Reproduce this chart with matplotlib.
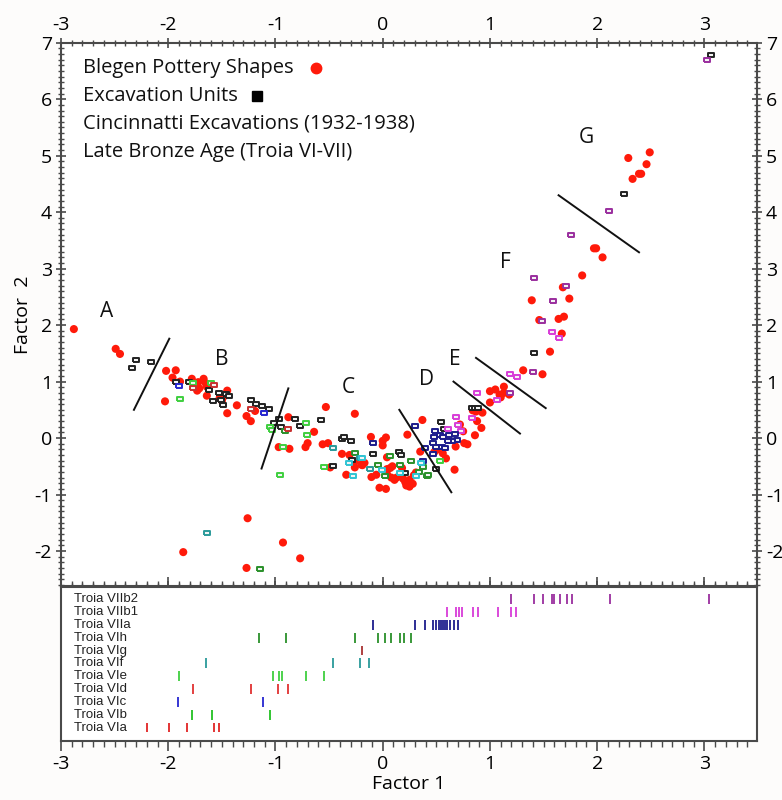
import numpy as np
import matplotlib
matplotlib.use('Agg')
import matplotlib.pyplot as plt
from matplotlib.ticker import MultipleLocator

plt.rcParams['font.family'] = ['Open Sans', 'DejaVu Sans']
plt.rcParams['axes.unicode_minus'] = False

# ---- pottery shapes (red dots), Factor 1 / Factor 2 ----
shape_x = [-2.88, -2.49, -2.45,
           -2.02, -1.93, -1.96, -2.03, -1.89, -1.78, -1.72, -1.73, -1.71, -1.67, -1.65, -1.64, -1.64,
           -1.52, -1.49, -1.50, -1.45, -1.36, -1.45, -1.27, -1.23, -1.19,
           -0.88, -0.97, -0.87, -0.70, -0.72, -0.64, -0.56, -0.51, -0.53, -0.26,
           -0.49, -0.38, -0.34, -0.31, -0.26, -0.20, -0.17, -0.26, -0.19, -0.11, -0.105, -0.06,
           0.00, 0.03, 0.00, -0.03, 0.03, 0.04, 0.07, 0.09, 0.04, 0.08, 0.13, 0.11, 0.04,
           0.18, 0.17, 0.19, 0.21, 0.25, 0.22, 0.25, 0.28, 0.23, 0.37, 0.31, 0.29, 0.35,
           0.50, 0.48, 0.56, 0.59, 0.67, 0.68,
           1.00, 1.05, 1.09, 1.13, 1.13, 1.00, 1.10, 1.18, 0.84, 0.87, 0.93, 0.88, 0.72, 0.75,
           0.79, 0.76, 0.86, 0.92,
           1.31, 1.49, 1.56, 1.67, 1.64, 1.69, 1.46, 1.39, 1.74, 1.68, 1.86, 1.97, 1.99, 2.05,
           2.29, 2.49, 2.46, 2.39, 2.41, 2.33,
           -1.26, -1.86, -0.93, -0.77, -1.27]
shape_y = [1.93, 1.58, 1.49,
           1.19, 1.20, 1.07, 0.65, 1.00, 1.05, 0.99, 0.84, 0.88, 1.05, 0.97, 0.91, 0.75,
           0.71, 0.72, 0.66, 0.84, 0.58, 0.44, 0.39, 0.30, 0.48,
           0.37, -0.16, -0.19, -0.09, -0.16, 0.11, -0.11, -0.09, 0.55, 0.43,
           -0.52, -0.28, -0.65, -0.30, -0.41, -0.47, -0.44, -0.52, -0.48, 0.02, -0.69, -0.65,
           -0.05, 0.01, -0.13, -0.88, -0.90, -0.55, -0.53, -0.50, -0.64, -0.70, -0.70, -0.74, -0.34,
           -0.53, -0.65, -0.72, -0.78, -0.74, -0.84, -0.86, -0.81, 0.06, 0.32, -0.61, -0.66, -0.24,
           -0.21, -0.25, -0.27, -0.36, -0.56, -0.15,
           0.83, 0.86, 0.77, 0.80, 0.91, 0.63, 0.72, 0.77, 0.49, 0.47, 0.45, 0.30, 0.24, 0.12,
           -0.11, -0.09, 0.05, 0.18,
           1.20, 1.13, 1.53, 1.85, 2.11, 2.15, 2.09, 2.44, 2.47, 2.67, 2.88, 3.36, 3.36, 3.20,
           4.96, 5.06, 4.85, 4.68, 4.68, 4.59,
           -1.42, -2.02, -1.85, -2.13, -2.30]

# ---- excavation units (squares), by colour group ----
unit_black_x = [-2.34, -2.30, -2.16, -1.93, -1.81, -1.62, -1.58, -1.53, -1.51, -1.49, -1.46, -1.43,
                -1.23, -1.18, -1.13, -1.06, -1.01, -0.97, -0.95, -0.82, -0.77, -0.58, -0.38, -0.36,
                -0.30, -0.46, -0.29, -0.09, 0.15, 0.17, 0.21, 0.50, 0.54, 0.57, 0.83, 0.86, 0.89,
                1.41, 2.25, 3.06]
unit_black_y = [1.24, 1.39, 1.35, 1.00, 1.00, 0.85, 0.65, 0.79, 0.68, 0.58, 0.78, 0.74,
                0.67, 0.60, 0.57, 0.51, 0.27, 0.33, 0.19, 0.34, 0.22, 0.32, -0.02, 0.02,
                -0.05, -0.49, -0.38, -0.29, -0.25, -0.30, -0.62, -0.55, 0.28, 0.16, 0.53, 0.53, 0.53,
                1.51, 4.32, 6.78]
unit_purple_x = [1.19, 1.40, 1.41, 1.49, 1.59, 1.71, 1.76, 2.11, 3.02]
unit_purple_y = [0.80, 1.17, 2.83, 2.08, 2.42, 2.70, 3.59, 4.03, 6.69]
unit_magenta_x = [0.61, 0.68, 0.70, 0.73, 0.83, 0.88, 1.07, 1.19, 1.25, 1.58, 1.64]
unit_magenta_y = [0.16, 0.37, 0.24, 0.13, 0.35, 0.80, 0.68, 1.13, 1.09, 1.88, 1.78]
unit_navy_x = [-0.09, 0.30, 0.39, 0.38, 0.47, 0.49, 0.53, 0.56, 0.48, 0.62, 0.67, 0.69, 0.65,
               0.61, 0.47, 0.50, 0.55, 0.58]
unit_navy_y = [-0.09, 0.22, -0.17, -0.40, -0.28, 0.12, 0.06, 0.01, 0.01, 0.05, 0.08, -0.03, -0.06,
               -0.06, -0.09, -0.15, -0.15, -0.17]
unit_dkgreen_x = [-1.14, -0.91, -0.26, -0.04, 0.02, 0.07, 0.16, 0.26, 0.34, 0.38, 0.41, 0.42]
unit_dkgreen_y = [-2.32, 0.12, -0.27, -0.48, -0.67, -0.32, -0.48, -0.41, -0.60, -0.52, -0.68, -0.65]
unit_ltgreen_x = [-1.89, -1.77, -1.60, -1.05, -1.03, -0.96, -0.72, -0.71, -0.55, -0.93, 0.53]
unit_ltgreen_y = [0.70, 0.97, 0.98, 0.19, 0.15, -0.65, 0.27, 0.05, -0.51, -0.15, -0.41]
unit_red_x = [-1.77, -1.57, -1.23, -0.88]
unit_red_y = [0.88, 0.94, 0.52, 0.16]
unit_blue_x = [-1.90, -1.11]
unit_blue_y = [0.93, 0.45]
unit_teal_x = [-1.64, -0.46, -0.21, -0.12]
unit_teal_y = [-1.69, -0.18, -0.35, -0.54]
unit_cyan_x = [-0.31, -0.28, -0.19, -0.01, 0.16, 0.31, 0.36]
unit_cyan_y = [-0.44, -0.68, -0.35, -0.56, -0.62, -0.68, -0.44]

# ---- group dividers and labels ----
divider_x = [(-1.99, -2.32), (-0.88, -1.13), (0.155, 0.64), (0.66, 1.28), (0.87, 1.52), (1.64, 2.39)]
divider_y = [(1.76, 0.50), (0.88, -0.54), (0.50, -0.96), (1.00, 0.08), (1.42, 0.53), (4.30, 3.29)]
group_names = ['A', 'B', 'C', 'D', 'E', 'F', 'G']
group_x = [-2.57, -1.50, -0.32, 0.41, 0.67, 1.14, 1.90]
group_y = [2.25, 1.39, 0.90, 1.03, 1.39, 3.11, 5.33]

# ---- rug: Factor 1 of units per phase ----
phases = ['Troia VIa', 'Troia VIb', 'Troia VIc', 'Troia VId', 'Troia VIe', 'Troia VIf',
          'Troia VIg', 'Troia VIh', 'Troia VIIa', 'Troia VIIb1', 'Troia VIIb2']
phase_colors = ['#e02424', '#22c022', '#2626d0', '#e03232', '#3fcf3f', '#2a9a9a',
                '#a83232', '#2a902a', '#1c1c8c', '#d83cd8', '#9a2e9e']
phase_f1 = [
    [-2.196, -1.992, -1.821, -1.575, -1.525],
    [-1.775, -1.596, -1.054],
    [-1.908, -1.1125],
    [-1.771, -1.229, -0.979, -0.8875],
    [-1.90, -1.025, -0.9625, -0.9375, -0.7125, -0.55],
    [-1.646, -0.467, -0.2125, -0.125],
    [-0.196],
    [-1.15, -0.904, -0.258, -0.042, 0.025, 0.075, 0.1625, 0.20, 0.2625],
    [-0.092, 0.30, 0.392, 0.471, 0.496, 0.521, 0.542, 0.5625, 0.583, 0.604, 0.629, 0.6625, 0.70],
    [0.604, 0.683, 0.708, 0.738, 0.842, 0.888, 1.075, 1.196, 1.246],
    [1.196, 1.413, 1.496, 1.579, 1.596, 1.654, 1.717, 1.763, 2.121, 3.04],
]

legend_lines = ['Blegen Pottery Shapes', 'Excavation Units',
                'Cincinnatti Excavations (1932-1938)', 'Late Bronze Age (Troia VI-VII)']

# rectangular marker, wider than tall
rect = [(-1, -0.6), (1, -0.6), (1, 0.6), (-1, 0.6), (-1, -0.6)]

fig = plt.figure(figsize=(7.82, 8.0), dpi=100)
ax = fig.add_axes([0.078, 0.2675, 0.890, 0.679])
ax2 = fig.add_axes([0.078, 0.074, 0.890, 0.1925], sharex=ax)

spine_c = '#4a4a4a'
ax.scatter(shape_x, shape_y, s=34, color='#ff1a0a', edgecolors='none', zorder=2)

groups = [(unit_black_x, unit_black_y, '#222222'),
          (unit_purple_x, unit_purple_y, '#9a2e9e'),
          (unit_magenta_x, unit_magenta_y, '#d83cd8'),
          (unit_navy_x, unit_navy_y, '#1c1c8c'),
          (unit_dkgreen_x, unit_dkgreen_y, '#2a902a'),
          (unit_ltgreen_x, unit_ltgreen_y, '#3fcf3f'),
          (unit_red_x, unit_red_y, '#c83030'),
          (unit_blue_x, unit_blue_y, '#2626d0'),
          (unit_teal_x, unit_teal_y, '#2a9a9a'),
          (unit_cyan_x, unit_cyan_y, '#30c4d4')]
for gx, gy, c in groups:
    ax.scatter(gx, gy, s=20, marker=rect, facecolors='#f4f4f4', edgecolors=c,
               linewidths=1.4, zorder=3)

for dx, dy in zip(divider_x, divider_y):
    ax.plot(dx, dy, color='#111111', lw=1.4, zorder=4)
for name, gx, gy in zip(group_names, group_x, group_y):
    ax.text(gx, gy, name, fontsize=15, ha='center', va='center', color='#111111')

# legend-like text block
for i, t in enumerate(legend_lines):
    ax.text(0.031, 0.954 - i * 0.0516, t, transform=ax.transAxes, fontsize=14.5,
            va='center', ha='left', color='#111111')
ax.plot([0.366], [0.954], 'o', color='#ff1a0a', ms=7.5, transform=ax.transAxes)
ax.plot([0.281], [0.9024], 's', color='black', ms=6.5, transform=ax.transAxes)

ax.set_xlim(-3, 3.49)
ax.set_ylim(-2.62, 7)
ax.xaxis.set_major_locator(MultipleLocator(1))
ax.xaxis.set_minor_locator(MultipleLocator(0.1))
ax.yaxis.set_major_locator(MultipleLocator(1))
ax.yaxis.set_minor_locator(MultipleLocator(0.1))
ax.tick_params(which='both', top=True, bottom=True, left=True, right=True,
               labeltop=True, labelbottom=False, labelleft=True, labelright=True,
               direction='inout', color=spine_c, labelsize=14, pad=3)
ax.tick_params(which='major', length=7, width=1.2)
ax.tick_params(which='minor', length=4, width=1.0)
ax.set_ylabel('Factor  2', fontsize=14, labelpad=2)
for s in ax.spines.values():
    s.set_color(spine_c)
    s.set_linewidth(1.5)

# rug panel
for row, (xs, c) in enumerate(zip(phase_f1, phase_colors)):
    ax2.vlines(xs, row - 0.38, row + 0.38, color=c, lw=1.3)
    ax2.text(-2.88, row, phases[row], fontsize=9.5, va='center', ha='left',
             family=['Liberation Sans', 'DejaVu Sans'], color='#222222')
ax2.set_ylim(-1.03, 10.96)
ax2.set_yticks([])
ax2.tick_params(axis='x', which='both', top=True, bottom=True, labelbottom=True,
                direction='out', color=spine_c, labelsize=14, pad=3)
ax2.tick_params(axis='x', which='major', length=7, width=1.2)
ax2.tick_params(axis='x', which='minor', length=4, width=1.0)
ax2.set_xlabel('Factor 1', fontsize=14, labelpad=2)
for s in ax2.spines.values():
    s.set_color(spine_c)
    s.set_linewidth(1.5)

fig.savefig('out.png', dpi=100, facecolor='#fdfcfb')
